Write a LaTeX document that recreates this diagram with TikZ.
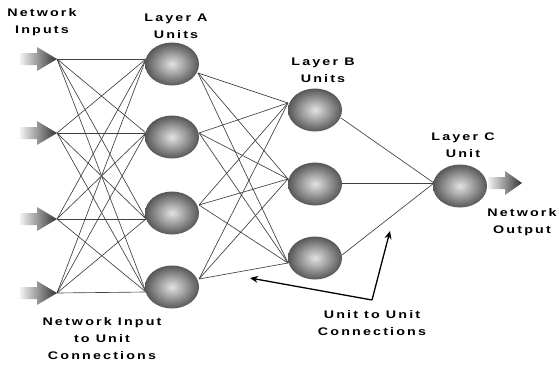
\documentclass[tikz,border=0pt]{standalone}
\usepackage{fontspec}
\setmainfont{Liberation Sans}[LetterSpace=15]
\usetikzlibrary{shapes.geometric,arrows.meta}
\begin{document}
\begin{tikzpicture}[x=1pt,y=-1pt,
  unit/.style={ellipse, minimum width=54pt, minimum height=43pt, inner sep=0pt,
    shading=radial, inner color=gray!22, outer color=black!66},
  conn/.style={draw=black!75, line width=0.65pt},
  lbl/.style={font=\bfseries\fontsize{11}{17}\selectfont, align=center, xscale=1.3, inner sep=0pt},
  inarrow/.style={left color=gray!10, right color=black!80, draw=none},
  ann/.style={draw=black, line width=1.3pt, -{Stealth[open, length=8pt, width=7pt]}}]
\fill[white] (0,0) rectangle (559,367);
\path[use as bounding box] (0,0) rectangle (559,367);

% connection points
\coordinate (I1) at (57,59);  \coordinate (I2) at (57,133);
\coordinate (I3) at (57,219); \coordinate (I4) at (57,293);
\coordinate (AL1) at (146,59);  \coordinate (AL2) at (146,133);
\coordinate (AL3) at (146,219); \coordinate (AL4) at (146,292);
\coordinate (AR1) at (198,73);  \coordinate (AR2) at (199,133);
\coordinate (AR3) at (199,205); \coordinate (AR4) at (199,279);
\coordinate (BL1) at (288,103); \coordinate (BL2) at (288,179); \coordinate (BL3) at (288,263);
\coordinate (BR1) at (341,118); \coordinate (BR2) at (342,183); \coordinate (BR3) at (342,255);
\coordinate (CL) at (434,183);
\coordinate (O1) at (488,183);

% input arrows
\foreach \i in {1,2,3,4}{
  \path[inarrow] ([xshift=-37pt,yshift=-6pt]I\i) -- ([xshift=-20pt,yshift=-6pt]I\i)
    -- ([xshift=-20pt,yshift=-12pt]I\i) -- (I\i) -- ([xshift=-20pt,yshift=12pt]I\i)
    -- ([xshift=-20pt,yshift=6pt]I\i) -- ([xshift=-37pt,yshift=6pt]I\i) -- cycle;
}
% output arrow
\coordinate (O2) at (522,183);
\path[inarrow] ([yshift=-6pt]O1) -- ([xshift=17pt,yshift=-6pt]O1) -- ([xshift=17pt,yshift=-12pt]O1)
  -- (O2) -- ([xshift=17pt,yshift=12pt]O1) -- ([xshift=17pt,yshift=6pt]O1) -- ([yshift=6pt]O1) -- cycle;

% connections
\foreach \i in {1,2,3,4}{\foreach \j in {1,2,3,4}{\draw[conn] (I\i) -- (AL\j);}}
\foreach \i in {1,2,3,4}{\foreach \j in {1,2,3}{\draw[conn] (AR\i) -- (BL\j);}}
\foreach \j in {1,2,3}{\draw[conn] (BR\j) -- (CL);}

% units
\node[unit] (A1) at (172,64) {};
\node[unit] (A2) at (172,137) {};
\node[unit] (A3) at (172,213) {};
\node[unit] (A4) at (172,287) {};
\node[unit] (B1) at (315,110) {};
\node[unit] (B2) at (315,184) {};
\node[unit] (B3) at (315,258) {};
\node[unit] (C1) at (460,186) {};

% annotation arrows
\coordinate (knee) at (372,300);
\coordinate (tipL) at (250,278);
\coordinate (tipU) at (390,231);
\draw[ann] (knee) -- (tipL);
\draw[ann] (knee) -- (tipU);

% labels
\node[lbl] (tNI) at (42,22) {Network\\Inputs};
\node[lbl] (tLA) at (176,26) {Layer A\\Units};
\node[lbl] (tLB) at (323,70) {Layer B\\Units};
\node[lbl] (tLC) at (463,145) {Layer C\\Unit};
\node[lbl] (tNO) at (522,222) {Network\\Output};
\node[lbl] (tNIC) at (102,339) {Network Input\\to Unit\\Connections};
\node[lbl] (tUU) at (372,323) {Unit to Unit\\Connections};
\end{tikzpicture}
\end{document}
